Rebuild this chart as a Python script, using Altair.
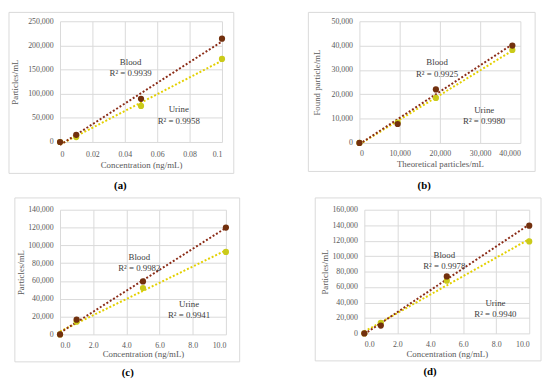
import altair as alt
import pandas as pd

FONT = "Liberation Serif"
GRID = "#D9D9D9"
LABEL = "#595959"
TEXT = "#404040"
BLOOD_PT = "#72300E"
BLOOD_LN = "#8B2C17"
URINE_PT = "#CACA1A"
URINE_LN = "#E3D000"

# ---------------- data ----------------
a_x = [0, 0.01, 0.05, 0.1]
a_blood = [0, 14900, 89400, 214000]
a_urine = [0, 10200, 74600, 172100]
a_xticks = [0, 0.02, 0.04, 0.06, 0.08, 0.1]
a_yticks = [0, 50000, 100000, 150000, 200000, 250000]
a_note_x = [0.0436, 0.0733]
a_note_y = [165600, 67700]
a_note_text = ["Blood\nR² = 0.9939", "Urine\nR² = 0.9958"]

b_x = [0, 9500, 19000, 38000]
b_blood = [0, 7800, 22000, 40000]
b_urine = [0, 8400, 18500, 38200]
b_xticks = [0, 10000, 20000, 30000, 40000]
b_yticks = [0, 10000, 20000, 30000, 40000, 50000]
b_note_x = [19300, 31000]
b_note_y = [33100, 13500]
b_note_text = ["Blood\nR² = 0.9925", "Urine\nR² = 0.9980"]

c_x = [0, 1, 5, 10]
c_blood = [0, 16500, 59500, 120000]
c_urine = [0, 14300, 52100, 92600]
c_xticks = [0, 2, 4, 6, 8, 10]
c_yticks = [0, 20000, 40000, 60000, 80000, 100000, 120000, 140000]
c_note_x = [4.78, 7.78]
c_note_y = [86750, 34200]
c_note_text = ["Blood\nR² = 0.9982", "Urine\nR² = 0.9941"]

d_x = [0, 1, 5, 10]
d_blood = [0, 10200, 73700, 139300]
d_urine = [0, 13500, 68200, 119000]
d_xticks = [0, 2, 4, 6, 8, 10]
d_yticks = [0, 20000, 40000, 60000, 80000, 100000, 120000, 140000, 160000]
d_note_x = [4.85, 7.95]
d_note_y = [101600, 39400]
d_note_text = ["Blood\nR² = 0.9978", "Urine\nR² = 0.9940"]


def panel(label, xs, blood, urine, xticks, yticks, xfmt, xtitle, ytitle,
          nx, ny, nt, W, H, box, ytx, xlpad, xty, toff, tdx):
    df_b = pd.DataFrame({"x": xs, "y": blood})
    df_u = pd.DataFrame({"x": xs, "y": urine})
    df_n = pd.DataFrame({"x": nx, "y": ny, "t": nt})

    common = dict(labelFont=FONT, labelFontSize=8, labelColor=LABEL,
                  titleFont=FONT, titleFontSize=9, titleFontWeight="normal",
                  titleColor=LABEL, gridColor=GRID, gridWidth=1,
                  domain=False, ticks=False)
    X = alt.X("x:Q", scale=alt.Scale(domain=[xticks[0], xticks[-1]], nice=False, zero=False),
              axis=alt.Axis(values=xticks, format=xfmt, title=xtitle,
                            labelPadding=xlpad, titleY=xty, titleBaseline="top", **common))
    Y = alt.Y("y:Q", scale=alt.Scale(domain=[yticks[0], yticks[-1]], nice=False),
              axis=alt.Axis(values=yticks, format=",.0f", title=ytitle,
                            labelPadding=7, titleX=ytx, titleY=H / 2,
                            titleAngle=270, titleBaseline="bottom", **common))

    l, r, t, b = box
    frame = alt.Chart(pd.DataFrame({"k": [0]})).mark_rect(
        fillOpacity=0, stroke=GRID, strokeWidth=1
    ).encode(x=alt.value(-l), x2=alt.value(W + r), y=alt.value(-t), y2=alt.value(H + b))

    line_u = alt.Chart(df_u).transform_regression("x", "y").mark_line(
        color=URINE_LN, strokeDash=[2, 2], strokeWidth=2).encode(X, Y)
    line_b = alt.Chart(df_b).transform_regression("x", "y").mark_line(
        color=BLOOD_LN, strokeDash=[2, 2], strokeWidth=2).encode(X, Y)
    pts_u = alt.Chart(df_u).mark_circle(size=40, opacity=1, color=URINE_PT).encode(X, Y)
    pts_b = alt.Chart(df_b).mark_circle(size=40, opacity=1, color=BLOOD_PT).encode(X, Y)
    notes = alt.Chart(df_n).mark_text(
        font=FONT, fontSize=9, color=TEXT, lineBreak="\n", lineHeight=11.5,
        align="center", baseline="middle"
    ).encode(X, Y, text="t:N")

    return alt.layer(frame, line_u, line_b, pts_u, pts_b, notes).properties(
        width=W, height=H,
        title=alt.TitleParams(text=label, orient="bottom", font=FONT, fontSize=11,
                              fontWeight="bold", color="#000000", offset=toff,
                              anchor="middle", dx=tdx))


pa = panel("(a)", a_x, a_blood, a_urine, a_xticks, a_yticks, ".2~f",
           "Concentration (ng/mL)", "Particles/mL",
           a_note_x, a_note_y, a_note_text, 165, 123, (52, 12, 9, 32), -41, 9, 19.5, 6, -21)
pb = panel("(b)", b_x, b_blood, b_urine, b_xticks, b_yticks, ",.0f",
           "Theoretical particles/mL", "Found particle/mL",
           b_note_x, b_note_y, b_note_text, 164, 124, (52, 15, 9, 29), -38.5, 7, 16.5, 8, -16)
pc = panel("(c)", c_x, c_blood, c_urine, c_xticks, c_yticks, ".1f",
           "Concentration (ng/mL)", "Particles/mL",
           c_note_x, c_note_y, c_note_text, 169, 127, (46, 14, 12, 28), -35.5, 7, 15.5, 5, -15.5)
pd_ = panel("(d)", d_x, d_blood, d_urine, d_xticks, d_yticks, ".1f",
            "Concentration (ng/mL)", "Particles/mL",
            d_note_x, d_note_y, d_note_text, 168, 126, (50, 12, 12, 28), -35.5, 7, 16.5, 5, -17)

row1 = alt.hconcat(pa, pb, spacing=74)
row2 = alt.hconcat(pc, pd_, spacing=75)
chart = alt.vconcat(row1, row2, spacing=6).properties(padding=0).configure_view(strokeWidth=0)

chart.save("out.html", embed_options={"renderer": "svg", "actions": False})
